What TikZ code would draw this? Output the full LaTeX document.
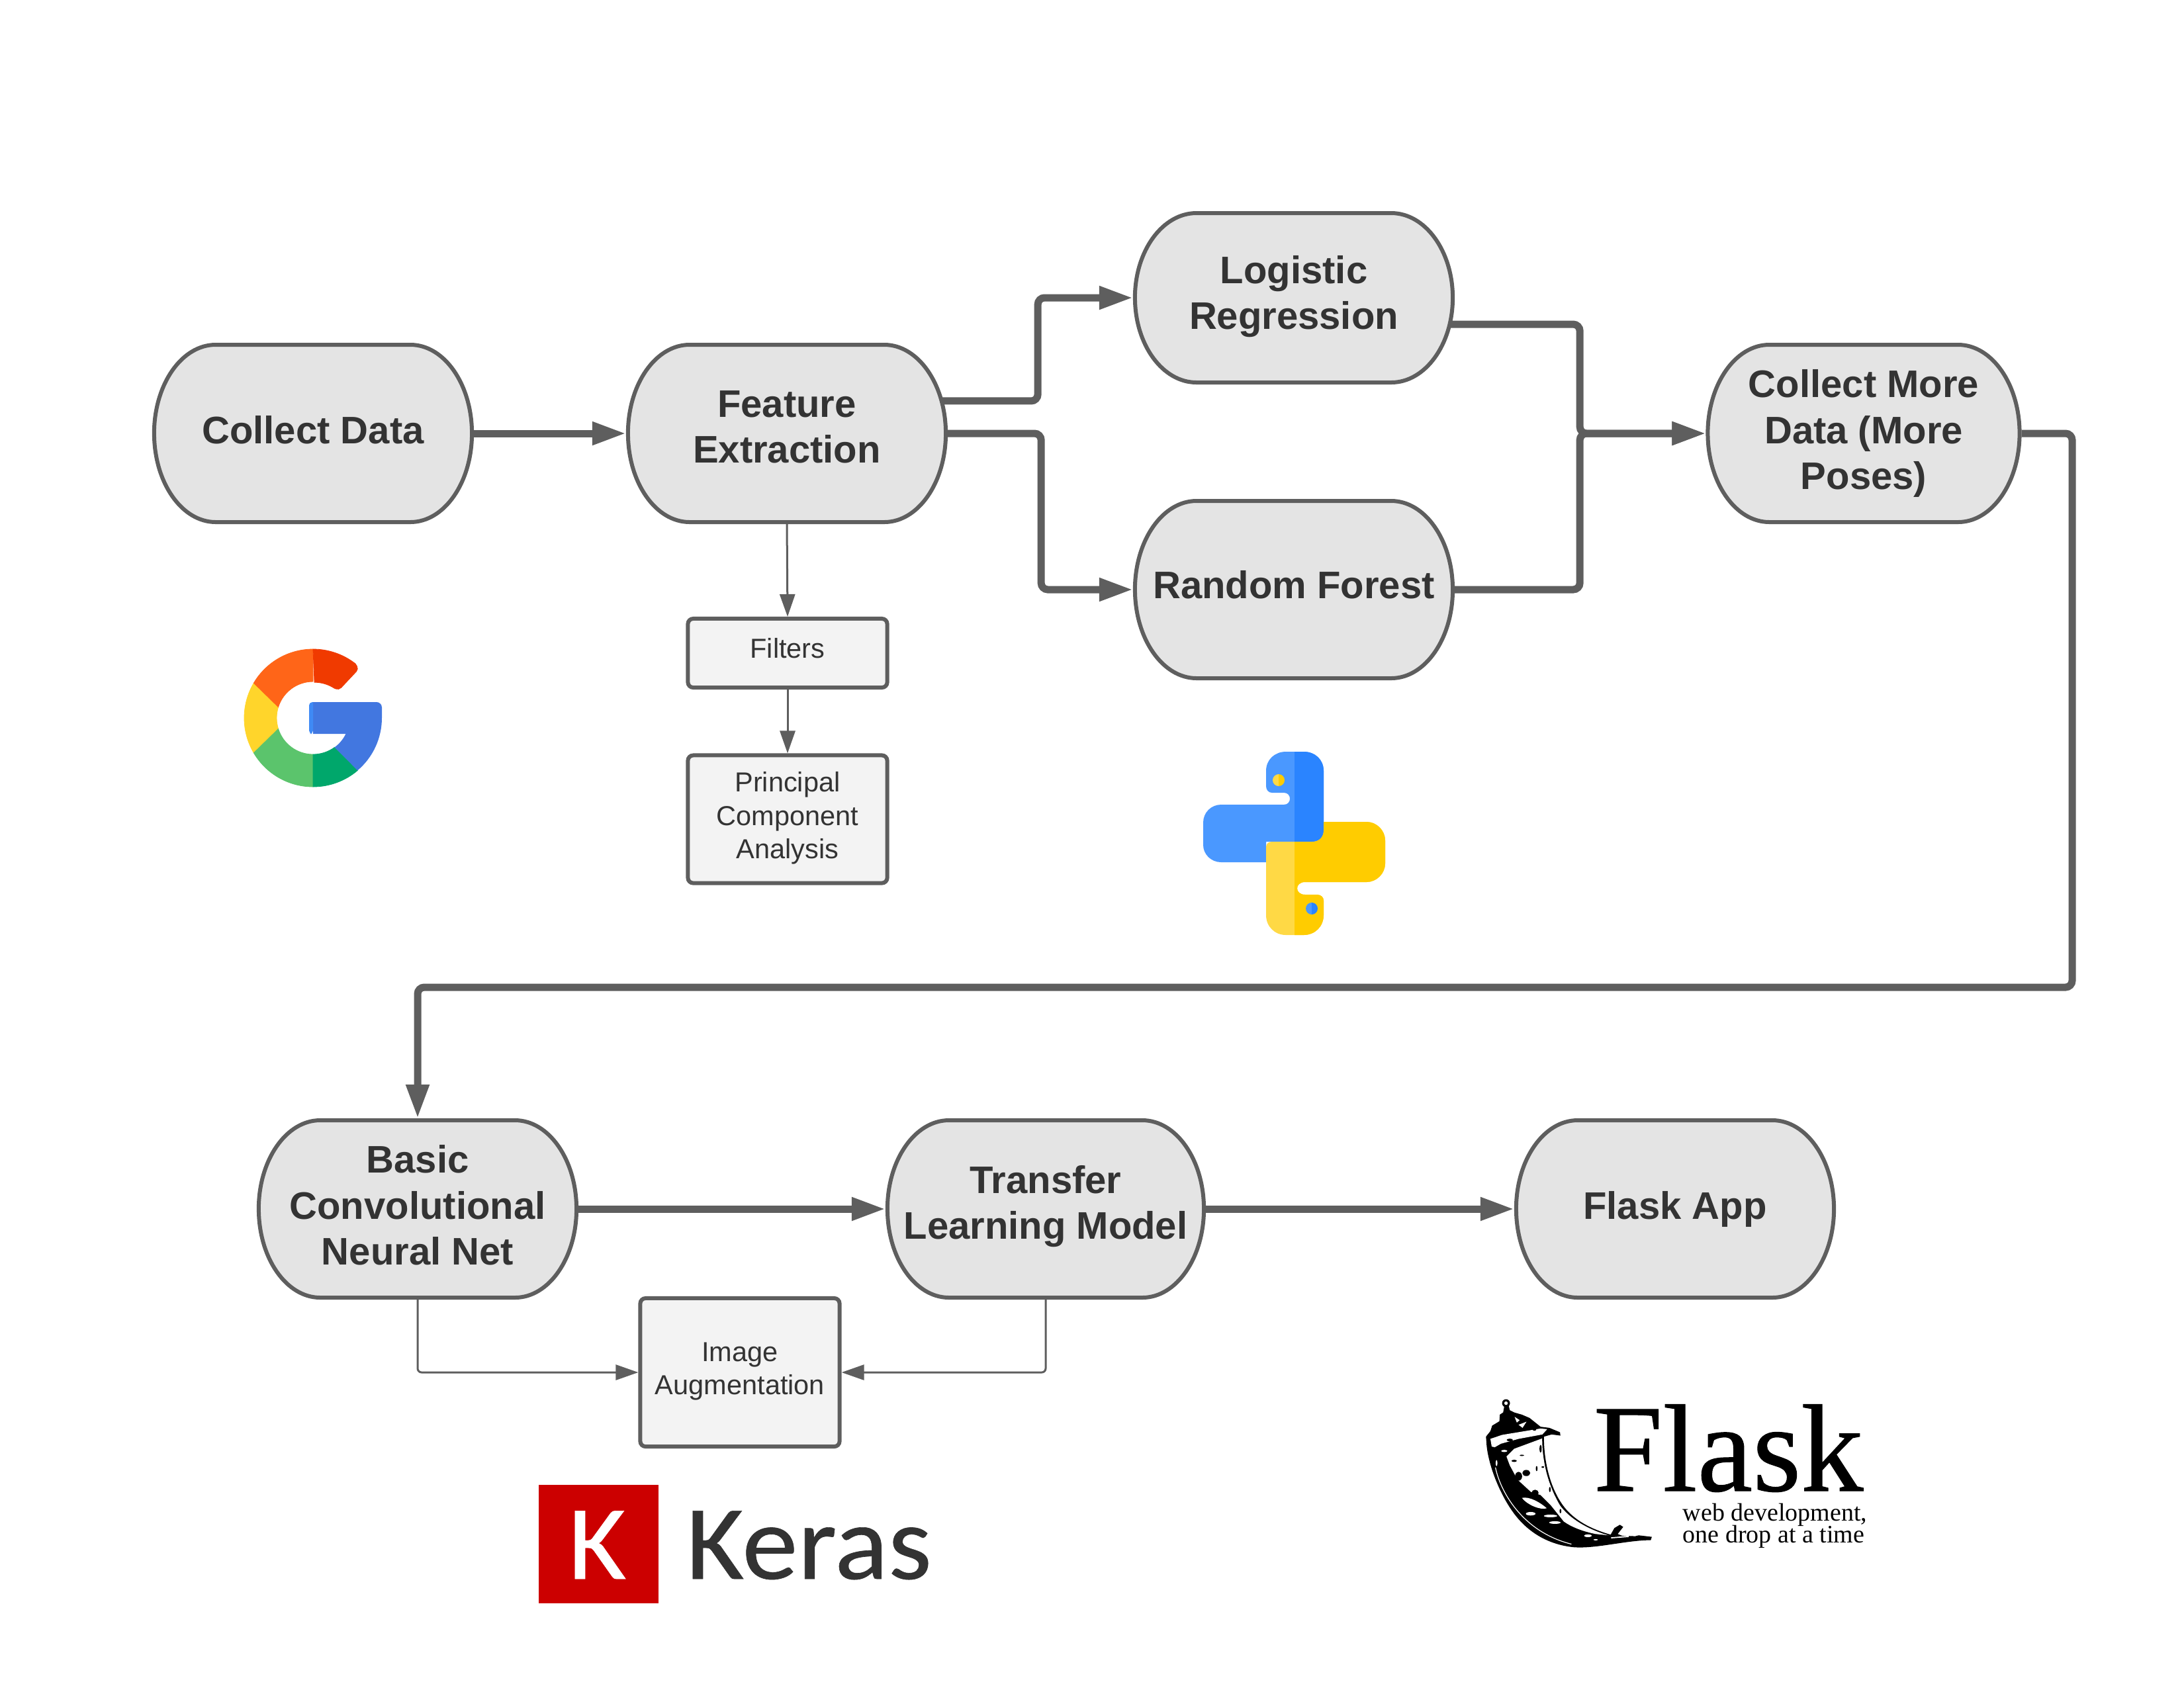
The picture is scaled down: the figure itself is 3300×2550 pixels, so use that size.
\documentclass[tikz,border=0pt]{standalone}
\usepackage{fontspec}
\setmainfont{Liberation Sans}
\newfontfamily\flaskfont{Liberation Serif}
\newfontfamily\flasktitlefont[FakeBold=0.6]{Liberation Serif}
\newfontfamily\kerasfont[FakeStretch=1.055,FakeBold=0.4]{Carlito}
\usetikzlibrary{arrows.meta}

\definecolor{edgegray}{HTML}{5E5E5E}
\definecolor{stagegray}{HTML}{E4E4E4}
\definecolor{notegray}{HTML}{F3F3F3}
\definecolor{inktext}{HTML}{333333}
\definecolor{gred}{HTML}{F03A00}
\definecolor{gorange}{HTML}{FF6518}
\definecolor{gyellow}{HTML}{FFD52B}
\definecolor{ggreen}{HTML}{5BC46C}
\definecolor{gdarkgreen}{HTML}{00A76B}
\definecolor{gblue}{HTML}{4277E0}
\definecolor{gbluelight}{HTML}{3F8AF5}
\definecolor{pybluel}{HTML}{4A98FF}
\definecolor{pyblued}{HTML}{2A84FF}
\definecolor{pyyellowl}{HTML}{FFD945}
\definecolor{pyyellowd}{HTML}{FFCC00}
\definecolor{kerasred}{HTML}{CC0000}

\tikzset{
  stage/.style={shape=rectangle, minimum width=4.86cm, minimum height={(2*#1+6)*.01cm},
    inner sep=0pt, outer sep=0pt, align=center, text=inktext,
    font=\fontsize{16.5}{19.8}\selectfont\bfseries,
    path picture={
      \draw[line width=.06cm, draw=edgegray, fill=stagegray]
        ([xshift=.03cm]path picture bounding box.west)
        arc[start angle=180, end angle=270, x radius=93, y radius=#1]
        -- ([xshift=-.96cm,yshift=-.03cm]path picture bounding box.north east)
        arc[start angle=270, end angle=360, x radius=93, y radius=#1]
        arc[start angle=0, end angle=90, x radius=93, y radius=#1]
        -- ([xshift=.96cm,yshift=.03cm]path picture bounding box.south west)
        arc[start angle=90, end angle=180, x radius=93, y radius=#1] -- cycle;
    }},
  stage/.default=134,
  note/.style={draw=edgegray, fill=notegray, line width=.06cm, rounded corners=.08cm,
    minimum width=3.01cm, inner sep=0pt, outer sep=.03cm, align=center, text=inktext,
    font=\fontsize{11.8}{14.3}\selectfont},
  flow/.style={draw=edgegray, line width=.11cm, rounded corners=.1cm,
    -{Triangle[length=.51cm,width=.33cm]}},
  thinflow/.style={draw=edgegray, line width=.03cm, rounded corners=.06cm,
    -{Triangle[length=.34cm,width=.23cm]}}
}

\begin{document}
\begin{tikzpicture}[x=.01cm,y=-.01cm]
  \useasboundingbox (0,0) rectangle (3300,2550);

  % stages
  \node[stage,text depth=.12cm] (collect) at (473,655) {Collect Data};
  \node[stage,text depth=.2cm] (feature) at (1189,655) {Feature\\Extraction};
  \node[stage=128,text depth=.16cm] (logistic) at (1955,450) {Logistic\\Regression};
  \node[stage,text depth=.16cm] (forest) at (1955,891) {Random Forest};
  \node[stage,minimum width=4.77cm] (more) at (2816,655) {Collect More\\Data (More\\Poses)};
  \node[stage,text depth=.12cm] (basic) at (631,1827) {Basic\\Convolutional\\Neural Net};
  \node[stage,minimum width=4.84cm,text depth=.2cm] (transfer) at (1580,1827) {Transfer\\Learning Model};
  \node[stage] (flaskapp) at (2531,1827) {Flask App};

  % side boxes
  \node[note,minimum height=1.04cm,text depth=.16cm] (filters) at (1190,987) {Filters};
  \node[note,minimum height=1.93cm,text depth=.12cm] (pca) at (1190,1238) {Principal\\Component\\Analysis};
  \node[note,minimum height=2.24cm,text depth=.12cm] (augment) at (1118,2074) {Image\\Augmentation};

  % thick arrows
  \draw[flow] (collect.east) -- (feature.west);
  \draw[flow] ([xshift=-.09cm,yshift=.49cm]feature.east) -- ++(145,0) |- (logistic.west);
  \draw[flow] (feature.east) -- ++(141,0) |- (forest.west);
  \draw[flow] ([xshift=-.08cm,yshift=-.4cm]logistic.east) -- ++(197,0) |- (more.west);
  \draw[flow] (forest.east) -- ++(189,0) |- (more.west);
  \draw[flow] (more.east) -| (3131,1492) -| (basic.north);
  \draw[flow] (basic.east) -- (transfer.west);
  \draw[flow] (transfer.east) -- (flaskapp.west);

  % thin arrows
  \draw[thinflow] (feature.south) -- (filters.north);
  \draw[thinflow] (filters.south) -- (pca.north);
  \draw[thinflow] (basic.south) |- (augment.west);
  \draw[thinflow] (transfer.south) |- (augment.east);

  % google
  \foreach \gcol/\ga/\gb/\ia/\ib in {gyellow/149.5/210.5/162.6/197.4,gorange/210.5/270/197.4/270,
      ggreen/90/149.5/90/162.6,gdarkgreen/49.7/90/53.7/90}
    \filldraw[\gcol,line width=.008cm] (473,1085) ++(\ga:104) arc[start angle=\ga,end angle=\gb,radius=104]
      -- ([shift={(\ib:55)}]473,1085) arc[start angle=\ib,end angle=\ia,radius=55] -- cycle;
  \filldraw[gred,line width=.008cm] (473,981) arc[start angle=270,end angle=308,radius=104]
    [rounded corners=.05cm] -- (542,1011) -- (512,1043) [sharp corners]
    -- (505,1040) arc[start angle=303,end angle=270,radius=55] -- cycle;
  \fill[gblue] (473,1061) [rounded corners=.08cm] -- (577,1061) [sharp corners] -- (577,1085)
    arc[start angle=0,end angle=49.7,radius=104] -- ([shift={(53.7:55)}]473,1085)
    arc[start angle=53.7,end angle=26,radius=55] -- (473,1109) -- cycle;
  \fill[gbluelight,rounded corners=.05cm] (473,1061) -- (467,1061) -- (467,1109) -- (473,1109) [sharp corners] -- cycle;

  % python
  \def\pyblue{(1913,1165) .. controls (1913,1148) and (1926,1136) .. (1943,1136) -- (1970,1136)
    .. controls (1987,1136) and (2000,1148) .. (2000,1165) -- (2000,1255)
    .. controls (2000,1265) and (1993,1272) .. (1983,1272) -- (1913,1272) -- (1913,1303) -- (1845,1303)
    .. controls (1830,1303) and (1818,1291) .. (1818,1277) -- (1818,1243)
    .. controls (1818,1228) and (1830,1216) .. (1845,1216) -- (1940,1216)
    .. controls (1952,1216) and (1952,1198) .. (1940,1198) -- (1922,1198)
    .. controls (1917,1198) and (1913,1194) .. (1913,1188) -- cycle}
  \def\pyyellow{(1913,1280) -- (1913,1383) .. controls (1913,1400) and (1926,1413) .. (1943,1413) -- (1970,1413)
    .. controls (1987,1413) and (2000,1400) .. (2000,1383) -- (2000,1361)
    .. controls (2000,1356) and (1996,1352) .. (1990,1352) -- (1972,1352)
    .. controls (1956,1352) and (1956,1333) .. (1972,1333) -- (2065,1333)
    .. controls (2080,1333) and (2093,1320) .. (2093,1305) -- (2093,1270)
    .. controls (2093,1255) and (2080,1242) .. (2065,1242) -- (2000,1242) -- (2000,1255)
    .. controls (2000,1265) and (1993,1272) .. (1983,1272) -- (1922,1272)
    .. controls (1917,1272) and (1913,1275) .. (1913,1280) -- cycle}
  \fill[pybluel] \pyblue;
  \fill[pyyellowl] \pyyellow;
  \begin{scope}
    \clip (1956,1100) rectangle (2120,1430);
    \fill[pyblued] \pyblue;
    \fill[pyyellowd] \pyyellow;
  \end{scope}
  \fill[pyyellowl] (1932,1170) arc[start angle=-90,end angle=-270,radius=9] -- cycle;
  \fill[pyyellowd] (1932,1170) arc[start angle=-90,end angle=90,radius=9] -- cycle;
  \fill[pybluel] (1982,1364) arc[start angle=-90,end angle=-270,radius=9] -- cycle;
  \fill[pyblued] (1982,1364) arc[start angle=-90,end angle=90,radius=9] -- cycle;

  % keras
  \fill[kerasred] (814,2244) rectangle (995,2423);
  \node[text=white,inner sep=0pt,anchor=base west,font=\kerasfont\fontsize{45.5}{45.5}\selectfont] (kerask) at (858,2386) {K};
  \node[text=inktext,inner sep=0pt,anchor=base west,font=\kerasfont\fontsize{45.5}{45.5}\selectfont] (kerasword) at (1036,2386) {Keras};

  % flask
  \node[text=black,inner sep=0pt,anchor=base west,font=\flasktitlefont\fontsize{53.5}{53.5}\selectfont] (flasktitle) at (2407,2253) {Flask};
  \node[text=black,inner sep=0pt,anchor=north west,align=left,
    font=\flaskfont\fontsize{10.8}{9.4}\selectfont] (flasktag) at (2542,2271) {web development,\\[-1.4pt]one drop at a time};
  \begin{scope}[shift={(22.3cm,-21.1cm)},x=.003333cm,y=-.003333cm]
    \fill[black] (133,28) circle (18);
    \fill[white] (133,28) circle (8);
    \fill[black] (125,42) -- (120,70) -- (105,80) -- (103,110) -- (70,130) -- (62,155) -- (42,180) -- (45,220)
      .. controls (55,320) and (110,450) .. (170,530)
      .. controls (230,610) and (320,670) .. (440,682)
      .. controls (540,690) and (680,650) .. (790,650) -- (795,635) -- (735,628) -- (720,632) -- (660,630)
      -- (640,622) -- (665,590) -- (650,580) -- (625,595) -- (608,625)
      .. controls (520,600) and (440,560) .. (390,490)
      .. controls (340,420) and (305,310) .. (305,180) -- (340,170) -- (380,175) -- (378,160) -- (330,140)
      -- (290,135) -- (240,95) -- (205,80) -- (170,70) -- (150,60) -- (146,42) -- cycle;
    % highlights
    \fill[white] (172,90) -- (195,105) -- (182,116) -- cycle;
    \fill[white] (190,126) -- (226,112) -- (208,140) -- cycle;
    \fill[white] (62,190) -- (115,172) -- (290,143) -- (320,146) -- (298,170) -- (190,190) -- (110,212) -- (82,228) -- (68,225) -- cycle;
    \fill[white] (170,235) -- (297,188)
      .. controls (298,310) and (330,410) .. (378,492)
      .. controls (420,550) and (500,600) .. (598,628)
      -- (540,622) .. controls (480,610) and (430,590) .. (395,565)
      -- (335,490) -- (290,445) -- (245,430) -- (185,375) -- (150,310) -- (135,270) -- cycle;
    \fill[white] (205,458) .. controls (240,450) and (290,480) .. (318,505) .. controls (290,515) and (230,490) .. (205,458) -- cycle;
    \fill[white] (245,530) ellipse (22 and 8);
    \fill[white] (335,540) ellipse (30 and 6);
    \fill[white] (355,570) ellipse (26 and 6);
    \fill[white] (610,637) -- (690,630) -- (690,636) -- (610,642) -- cycle;
    \fill[white] (505,630) ellipse (18 and 6);
    \fill[white] (540,648) ellipse (10 and 3);
    \fill[white] (125,245) ellipse (14 and 5);
    \fill[white] (90,300) ellipse (4 and 14);
    \draw[white,line width=.012cm] (85,320) .. controls (105,420) and (200,610) .. (430,668);
    \fill[black] (150,195) ellipse (14 and 6);
    \fill[black] (262,148) ellipse (8 and 5);
    \fill[black] (290,235) ellipse (5 and 18);
    \fill[black] (225,345) ellipse (18 and 14);
    \fill[black] (190,360) ellipse (16 and 20);
    \fill[black] (170,290) ellipse (12 and 5);
    \fill[black] (205,265) ellipse (10 and 3);
    \fill[black] (272,325) ellipse (4 and 12);
    \fill[black] (300,318) ellipse (6 and 4);
    \fill[black] (332,420) ellipse (4 and 12);
    \fill[black] (380,518) ellipse (4 and 10);
    \fill[black] (265,435) ellipse (16 and 14);
  \end{scope}
\end{tikzpicture}
\end{document}
